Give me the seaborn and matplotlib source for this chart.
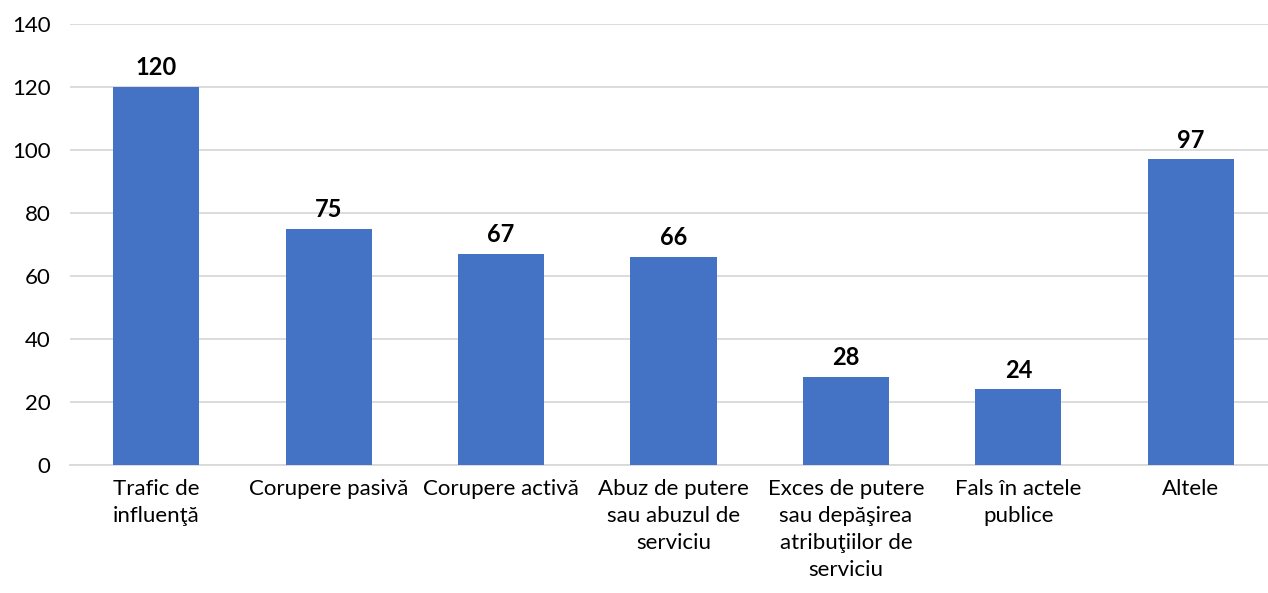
import matplotlib
matplotlib.use("Agg")
import matplotlib.pyplot as plt
import pandas as pd
import seaborn as sns

categories = ["Trafic de\ninfluenţă", "Corupere pasivă", "Corupere activă",
              "Abuz de putere\nsau abuzul de\nserviciu",
              "Exces de putere\nsau depăşirea\natribuţiilor de\nserviciu",
              "Fals în actele\npublice", "Altele"]
values = [120, 75, 67, 66, 28, 24, 97]
yticks = [0, 20, 40, 60, 80, 100, 120, 140]

df = pd.DataFrame({"cat": categories, "val": values})

sns.set_style("white")
plt.rcParams['font.family'] = ['Lato', 'DejaVu Sans']
plt.rcParams['text.color'] = 'black'

fig = plt.figure(figsize=(12.68, 5.93), dpi=100)
ax = fig.add_axes([70/1268, (593-465)/593, 1207/1268, 441/593])

sns.barplot(data=df, x="cat", y="val", color="#4472C4", saturation=1, width=0.5,
            linewidth=0, ax=ax, zorder=3)

ax.set_ylim(0, 140)
ax.set_xlim(-0.5, 6.5)
ax.set_yticks(yticks)
ax.yaxis.grid(True, color="#d9d9d9", linewidth=1.3, zorder=0)
ax.set_axisbelow(True)
for s in ["top", "right", "left"]:
    ax.spines[s].set_visible(False)
ax.spines["bottom"].set_color("#d9d9d9")
ax.spines["bottom"].set_linewidth(1.3)
ax.tick_params(axis="both", length=0, labelsize=16, colors="black")
ax.tick_params(axis="x", pad=10)
ax.tick_params(axis="y", pad=14)
ax.set_xticks(range(len(categories)))
ax.set_xticklabels(categories, linespacing=1.45, va="top")
ax.set_xlabel("")
ax.set_ylabel("")

for i, v in enumerate(values):
    ax.text(i, v + 2.5, str(v), ha="center", va="bottom", fontsize=17,
            fontweight="bold", color="black")

fig.savefig("out.png", dpi=100)
